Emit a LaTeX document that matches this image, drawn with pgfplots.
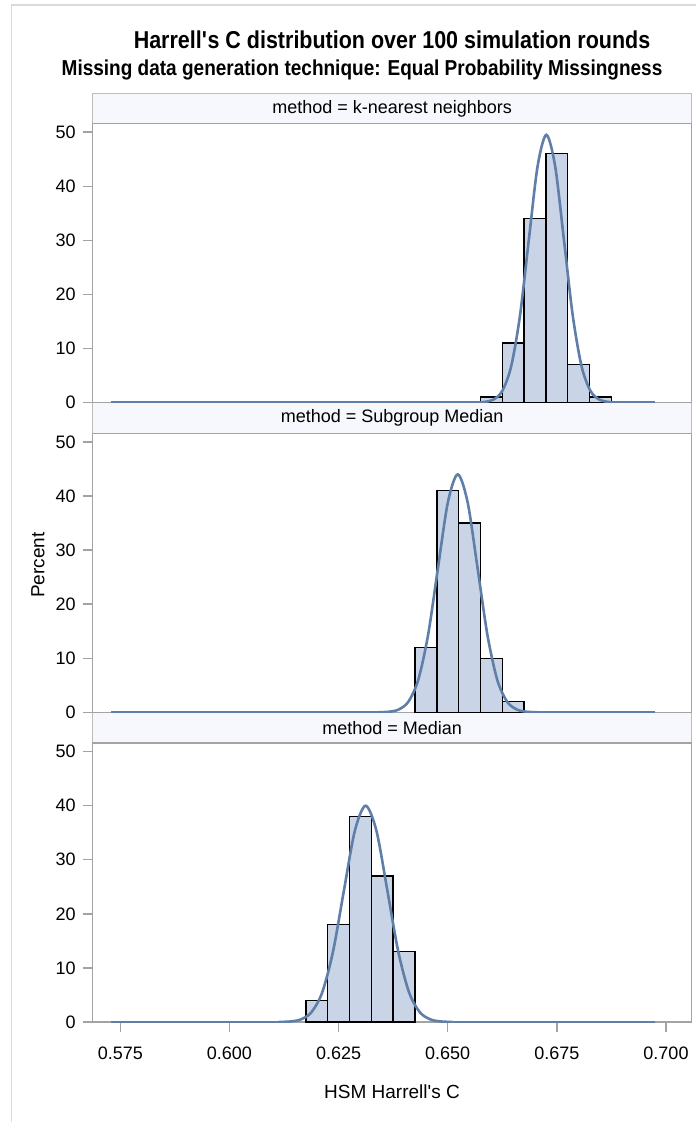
\documentclass[border=0pt]{standalone}
\usepackage{fontspec}
\setmainfont{Liberation Sans}
\newfontfamily\titlefont{Liberation Sans}[FakeStretch=0.88]
\usepackage{pgfplots}
\pgfplotsset{compat=1.18}

\definecolor{barfill}{HTML}{C9D5E6}
\definecolor{curvec}{HTML}{5F7FA8}
\definecolor{framec}{HTML}{A3A3A3}
\definecolor{hdrfill}{HTML}{F7F8FD}
\definecolor{hdrline}{HTML}{BDBDBD}
\definecolor{outerc}{HTML}{DADADA}

\pgfplotsset{
  panel/.style={
    scale only axis, width=299.5pt, height=139.5pt,
    anchor=south west,
    xmin=0.56868, xmax=0.70589, ymin=0, ymax=51.6,
    ytick={0,10,20,30,40,50},
    xtick pos=bottom, ytick pos=left,
    axis line style={framec, line width=0.7pt},
    tick align=outside, major tick length=5pt,
    tick style={framec, line width=0.7pt},
    every tick label/.append style={font=\fontsize{9}{10}\selectfont},
    xticklabel style={yshift=-4pt},
    /pgf/number format/assume math mode=true,
  },
  bars/.style={ybar, bar width=0.005, bar shift=0pt, fill=barfill, draw=black, line width=0.7pt},
  dens/.style={curvec, line width=1.3pt, smooth, mark=none},
  flat/.style={curvec, line width=1.3pt, mark=none},
}

\begin{document}
\begin{tikzpicture}
\useasboundingbox (0,0) rectangle (348pt,-561pt);
\draw[outerc, line width=0.6pt] (5.85pt,-561pt) -- (5.85pt,-2.5pt) -- (348pt,-2.5pt);

% titles
\node[font=\titlefont\bfseries\fontsize{12.2}{14}\selectfont] at (196pt,-20pt)
  {Harrell\textquotesingle s C distribution over 100 simulation rounds};
\node[font=\titlefont\bfseries\fontsize{10.8}{13}\selectfont] at (181pt,-35pt)
  {Missing data generation technique: Equal Probability Missingness};

% panel headers
\foreach \top/\bot/\lab in {-46.65pt/-61.75pt/k-nearest neighbors, -201.25pt/-216.75pt/Subgroup Median, -356.15pt/-371.75pt/Median} {
  \draw[hdrline, fill=hdrfill, line width=0.7pt] (46.35pt,\top) rectangle (345.85pt,\bot);
  \node[font=\fontsize{9}{10}\selectfont] at (196.1pt,{(\top+\bot)/2}) {method = \lab};
}

% k-nearest neighbors
\begin{axis}[panel, at={(46.35pt,-201.25pt)}, xtick=\empty]
\addplot[bars] coordinates {(0.660,1) (0.665,11) (0.670,34) (0.675,46) (0.680,7) (0.685,1)};
\addplot[flat] coordinates {(0.5729,0) (0.6565,0)};
\addplot[flat] coordinates {(0.6887,0) (0.6975,0)};
\addplot[dens] coordinates {
 (0.65648,0.017) (0.658495,0.108) (0.66051,0.550) (0.662525,2.175) (0.66454,6.70)
 (0.666555,16.07) (0.66857,30.02) (0.670585,43.68) (0.6726,49.5) (0.674615,43.68)
 (0.67663,30.02) (0.678645,16.07) (0.68066,6.70) (0.682675,2.175) (0.68469,0.550)
 (0.686705,0.108) (0.68872,0.017)};
\end{axis}

% Subgroup Median
\begin{axis}[panel, at={(46.35pt,-356.15pt)}, xtick=\empty]
\addplot[bars] coordinates {(0.645,12) (0.650,41) (0.655,35) (0.660,10) (0.665,2)};
\addplot[flat] coordinates {(0.5729,0) (0.6342,0)};
\addplot[flat] coordinates {(0.6704,0) (0.6975,0)};
\addplot[dens] coordinates {
 (0.634168,0.0147) (0.636435,0.0962) (0.638701,0.489) (0.640968,1.933) (0.643234,5.953)
 (0.645501,14.29) (0.647767,26.69) (0.650034,38.83) (0.6523,44.0) (0.654567,38.83)
 (0.656833,26.69) (0.659100,14.29) (0.661366,5.953) (0.663633,1.933) (0.665899,0.489)
 (0.668166,0.0962) (0.670432,0.0147)};
\end{axis}

% Median
\begin{axis}[panel, at={(46.35pt,-511pt)},
  xtick={0.575,0.600,0.625,0.650,0.675,0.700},
  xticklabels={0.575,0.600,0.625,0.650,0.675,0.700}]
\addplot[bars] coordinates {(0.620,4) (0.625,18) (0.630,38) (0.635,27) (0.640,13)};
\addplot[flat] coordinates {(0.5729,0) (0.6113,0)};
\addplot[flat] coordinates {(0.6511,0) (0.6975,0)};
\addplot[dens] coordinates {
 (0.611252,0.0134) (0.613746,0.0875) (0.616239,0.444) (0.618733,1.758) (0.621226,5.41)
 (0.623720,12.99) (0.626213,24.26) (0.628707,35.30) (0.6312,40.0) (0.633694,35.30)
 (0.636187,24.26) (0.638681,12.99) (0.641174,5.41) (0.643668,1.758) (0.646161,0.444)
 (0.648655,0.0875) (0.651148,0.0134)};
\end{axis}

% axis labels
\node[rotate=90, font=\fontsize{9.5}{11}\selectfont] at (19pt,-282.5pt) {Percent};
\node[font=\fontsize{9.5}{11}\selectfont] at (196pt,-546pt) {HSM Harrell\textquotesingle s C};
\end{tikzpicture}
\end{document}
